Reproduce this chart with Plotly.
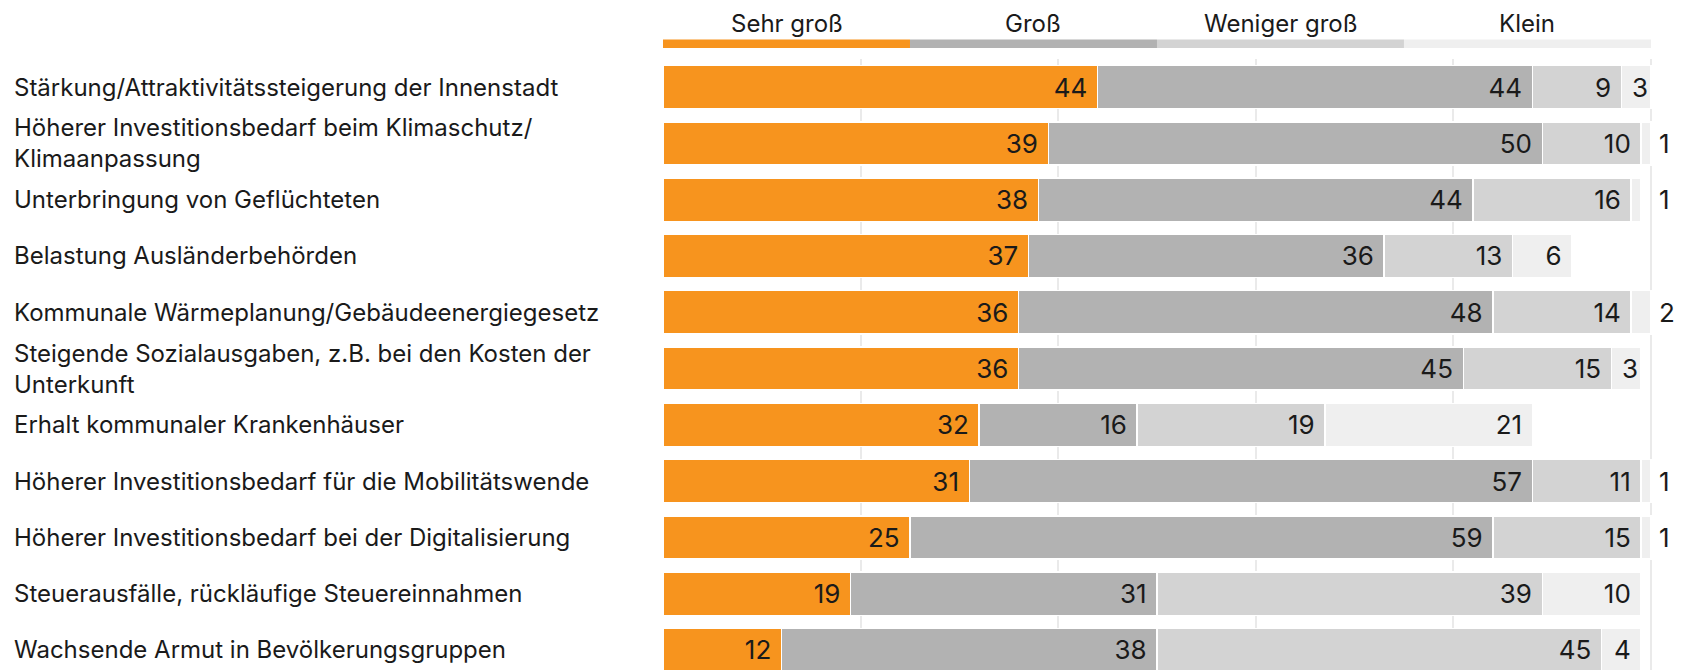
import plotly.graph_objects as go

categories = [
    "Stärkung/Attraktivitätssteigerung der Innenstadt",
    "Höherer Investitionsbedarf beim Klimaschutz/<br>Klimaanpassung",
    "Unterbringung von Geflüchteten",
    "Belastung Ausländerbehörden",
    "Kommunale Wärmeplanung/Gebäudeenergiegesetz",
    "Steigende Sozialausgaben, z.B. bei den Kosten der<br>Unterkunft",
    "Erhalt kommunaler Krankenhäuser",
    "Höherer Investitionsbedarf für die Mobilitätswende",
    "Höherer Investitionsbedarf bei der Digitalisierung",
    "Steuerausfälle, rückläufige Steuereinnahmen",
    "Wachsende Armut in Bevölkerungsgruppen",
]
series_names = ["Sehr groß", "Groß", "Weniger groß", "Klein"]
sehr_gross = [44, 39, 38, 37, 36, 36, 32, 31, 25, 19, 12]
gross = [44, 50, 44, 36, 48, 45, 16, 57, 59, 31, 38]
weniger_gross = [9, 10, 16, 13, 14, 15, 19, 11, 15, 39, 45]
klein = [3, 1, 1, 6, 2, 3, 21, 1, 1, 10, 4]
colors = ["#F7941E", "#B2B2B2", "#D3D3D3", "#EFEFEF"]
legend_span = [25, 25, 25, 25]
scale_max = 100

FONT = "Inter"
TXT = "#1a1a1a"

ypos = list(range(len(categories)))
fig = go.Figure()
all_series = [sehr_gross, gross, weniger_gross, klein]
for name, vals, col in zip(series_names, all_series, colors):
    if name == "Klein":
        texts = [str(v) if v >= 3 else "" for v in vals]
        ttpl = ["%{text}" if v == 3 else "%{text}\u00a0" for v in vals]
    else:
        texts = [str(v) for v in vals]
        ttpl = "%{text}\u00a0"
    fig.add_trace(go.Bar(
        name=name, y=ypos, x=vals, orientation="h",
        marker=dict(color=col, line=dict(color="white", width=1.5)),
        width=0.767,
        text=texts,
        texttemplate=ttpl,
        textposition="inside",
        insidetextanchor="end",
        textfont=dict(family=FONT, size=26, color=TXT),
        cliponaxis=False,
        hoverinfo="skip",
    ))

# small "Klein" values shown to the right of the 100% line
for i, v in enumerate(klein):
    if v < 3:
        fig.add_annotation(xref="x", yref="y", x=scale_max, y=i, text=str(v),
                           showarrow=False, xanchor="left", yanchor="middle", xshift=6,
                           font=dict(family=FONT, size=26, color=TXT))

# top strip legend
x0 = 0
for name, span, col in zip(series_names, legend_span, colors):
    fig.add_shape(type="rect", xref="x", yref="paper", x0=x0, x1=x0 + span,
                  y0=1.0182, y1=1.0318, fillcolor=col, line=dict(width=0), layer="above")
    fig.add_annotation(xref="x", yref="paper", x=x0 + span / 2, y=1.058,
                       text=name, showarrow=False, xanchor="center", yanchor="middle",
                       font=dict(family=FONT, size=24, color=TXT))
    x0 += span

# category labels, left aligned
for i, cat in enumerate(categories):
    fig.add_annotation(xref="paper", yref="y", x=-0.6446, y=i, text=cat,
                       showarrow=False, xanchor="left", yanchor="middle", align="left",
                       font=dict(family=FONT, size=24, color=TXT))

fig.update_layout(
    width=1686, height=670,
    barmode="stack",
    showlegend=False,
    plot_bgcolor="white", paper_bgcolor="white",
    margin=dict(l=663, r=13, t=59.4, b=0),
    xaxis=dict(range=[0, 102.23], tickvals=[0, 20, 40, 60, 80, 100], showticklabels=False,
               showgrid=True, gridcolor="#EAEAEA", gridwidth=2, zeroline=False,
               showline=False, ticks=""),
    yaxis=dict(range=[10.356, -0.5], showticklabels=False, showgrid=False,
               zeroline=False, showline=False, ticks=""),
)

fig.write_html("out.html")
